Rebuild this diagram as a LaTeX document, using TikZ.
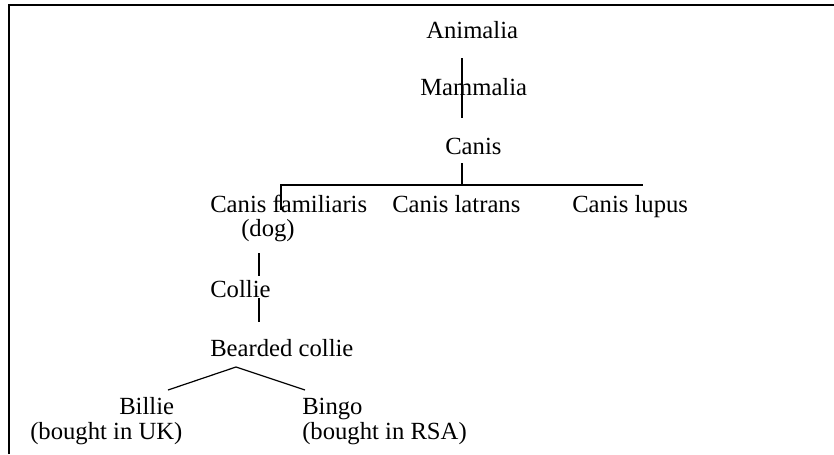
\documentclass[tikz,border=0pt]{standalone}
\usepackage{fontspec}
\setmainfont{Liberation Serif}
\begin{document}
\begin{tikzpicture}[x=0.75pt, y=-0.75pt]
            \tikzset{taxon/.style={anchor=base west, inner sep=0pt, font=\fontsize{18.5}{24}\selectfont},
                     branch/.style={line width=0.9pt}}
            \def\framewidth{1.6pt}
            \useasboundingbox (0,0) rectangle (834,454);
            \draw[line width=\framewidth] (9,454) -- (9,5) -- (834,5);
            \node[taxon] (animalia) at (426, 38) {Animalia};
            \node[taxon] (mammalia) at (420, 95) {Mammalia};
            \node[taxon] (canis) at (445, 154) {Canis};
            \node[taxon] (familiaris) at (210, 212) {Canis familiaris};
            \node[taxon] (dog) at (241, 236) {(dog)};
            \node[taxon] (latrans) at (392, 212) {Canis latrans};
            \node[taxon] (lupus) at (572, 212) {Canis lupus};
            \node[taxon] (collie) at (210, 297) {Collie};
            \node[taxon] (bearded) at (210, 356) {Bearded collie};
            \node[taxon] (billie) at (119, 414) {Billie};
            \node[taxon] (billieUK) at (30, 439) {(bought in UK)};
            \node[taxon] (bingo) at (302, 414) {Bingo};
            \node[taxon] (bingoRSA) at (302, 439) {(bought in RSA)};
            \coordinate (a1) at (462, 58);
            \coordinate (a2) at (462, 118);
            \coordinate (c1) at (462, 163);
            \coordinate (c2) at (462, 185);
            \coordinate (barL) at (280, 185);
            \coordinate (barR) at (643, 185);
            \coordinate (barF) at (281, 185);
            \coordinate (famF) at (281, 210);
            \coordinate (d1) at (259, 253);
            \coordinate (d2) at (259, 276);
            \coordinate (k1) at (259, 298);
            \coordinate (k2) at (259, 322);
            \coordinate (forkL) at (168, 390);
            \coordinate (forkTop) at (236, 367);
            \coordinate (forkR) at (305, 390);
            \draw[branch] (a1) -- (a2);
            \draw[branch] (c1) -- (c2);
            \draw[branch] (barL) -- (barR);
            \draw[branch] (barF) -- (famF);
            \draw[branch] (d1) -- (d2);
            \draw[branch] (k1) -- (k2);
            \draw[branch] (forkL) -- (forkTop) -- (forkR);
\end{tikzpicture}
\end{document}
